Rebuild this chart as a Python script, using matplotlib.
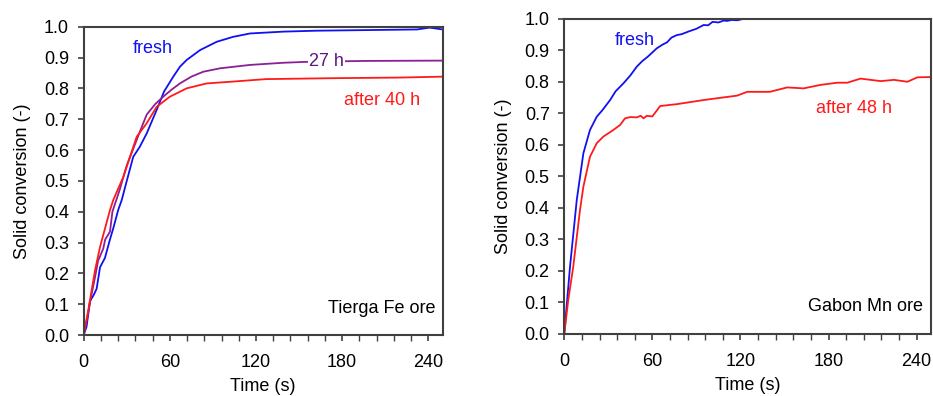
import matplotlib
matplotlib.use("Agg")
import matplotlib.pyplot as plt
from matplotlib.ticker import MultipleLocator

plt.rcParams['font.family'] = ['Liberation Sans', 'DejaVu Sans']
plt.rcParams['font.size'] = 13

# Tierga Fe ore: conversion vs time (s)
fe_fresh_t = [0, 2, 4.4, 7, 9, 11.4, 14.8, 18.3, 20.6, 24, 26.5, 30, 34.5, 39, 43.9,
              50.8, 56, 62.4, 67, 71.7, 81, 92.6, 104, 115.8, 139, 162, 197, 232, 241, 250]
fe_fresh_x = [0, 0.027, 0.11, 0.13, 0.15, 0.22, 0.25, 0.31, 0.346, 0.405, 0.438, 0.5, 0.578, 0.61, 0.654,
              0.73, 0.79, 0.838, 0.87, 0.892, 0.924, 0.951, 0.967, 0.978, 0.984, 0.987, 0.989, 0.991, 0.997, 0.991]

fe_27h_t = [0, 3, 5, 8, 10, 13.6, 15, 18.3, 20, 25, 30, 35, 40, 43.9, 50, 55.4, 61, 67, 75,
            83.3, 95, 115.8, 139, 155, 197, 250]
fe_27h_x = [0, 0.07, 0.12, 0.19, 0.24, 0.28, 0.31, 0.335, 0.4, 0.47, 0.55, 0.61, 0.67, 0.715, 0.75, 0.773, 0.795, 0.816, 0.838,
            0.854, 0.865, 0.876, 0.883, 0.886, 0.889, 0.89]

fe_40h_t = [0, 3.2, 7.9, 11.4, 18.3, 20.6, 27.6, 36.9, 43.9, 50.8, 60, 71.7, 85.6, 104, 127, 174, 220, 250]
fe_40h_x = [0, 0.081, 0.21, 0.286, 0.405, 0.438, 0.513, 0.643, 0.687, 0.74, 0.773, 0.8, 0.816, 0.822, 0.83, 0.833, 0.835, 0.838]

# Gabon Mn ore
mn_fresh_t = [0, 3.9, 8.5, 13, 17.5, 22.1, 26, 31.2, 35, 40.3, 45, 49.4, 53, 57, 60, 63, 67, 70, 73, 76.7,
              80, 85, 90, 94.9, 98, 101, 105, 108.5, 111, 114, 118, 122.5]
mn_fresh_x = [0, 0.213, 0.425, 0.573, 0.647, 0.689, 0.71, 0.742, 0.77, 0.795, 0.82, 0.848, 0.865, 0.88, 0.893, 0.906,
              0.918, 0.925, 0.94, 0.948, 0.951, 0.96, 0.968, 0.98, 0.979, 0.99, 0.988, 0.994, 0.993, 0.996, 0.995, 1.0]

mn_48h_t = [0, 2.7, 6.1, 10.7, 13, 17.5, 22.1, 26.6, 33.4, 38, 41.4, 45, 49.4, 52, 54, 56.2, 60, 65.3, 76.7, 94.9,
            117.7, 124.5, 140, 151.8, 163, 174.5, 186, 192.8, 201.8, 215.5, 224.6, 233.7, 240.5, 250]
mn_48h_x = [0, 0.108, 0.213, 0.393, 0.467, 0.562, 0.605, 0.626, 0.647, 0.663, 0.684, 0.688, 0.687, 0.692, 0.684, 0.692, 0.69, 0.723, 0.729, 0.742,
            0.756, 0.768, 0.768, 0.782, 0.779, 0.79, 0.797, 0.797, 0.81, 0.802, 0.806, 0.8, 0.814, 0.815]

BLUE = '#1010f0'
RED = '#ff1a1a'
PURPLE = '#8a1f96'
SPINE = '#404040'


def style_axes(ax):
    ax.set_xlim(0, 250)
    ax.set_ylim(0, 1.0)
    ax.xaxis.set_major_locator(MultipleLocator(60))
    ax.xaxis.set_minor_locator(MultipleLocator(12))
    ax.yaxis.set_major_locator(MultipleLocator(0.1))
    ax.yaxis.set_major_formatter(plt.FormatStrFormatter('%.1f'))
    ax.tick_params(which='major', direction='out', length=4.5, width=1.2, color=SPINE, labelsize=13)
    ax.tick_params(which='minor', direction='out', length=4.5, width=1.0, color=SPINE)
    ax.tick_params(axis='x', which='major', pad=9)
    ax.tick_params(axis='y', which='major', pad=6)
    for s in ax.spines.values():
        s.set_color(SPINE)
        s.set_linewidth(1.5)
    ax.set_xlabel('Time (s)', fontsize=13, labelpad=5)
    ax.set_ylabel('Solid conversion (-)', fontsize=13, labelpad=9)


fig = plt.figure(figsize=(9.33, 3.96), dpi=100)

ax1 = fig.add_axes([0.0897, 0.154, 0.3848, 0.7786])
ax1.plot(fe_fresh_t, fe_fresh_x, color=BLUE, lw=1.3)
ax1.plot(fe_27h_t, fe_27h_x, color=PURPLE, lw=1.3)
ax1.plot(fe_40h_t, fe_40h_x, color=RED, lw=1.3)
ax1.text(48, 0.93, 'fresh', color=BLUE, ha='center', va='center')
ax1.text(169, 0.887, '27 h', color='#5a1a80', ha='center', va='center',
         bbox=dict(facecolor='white', edgecolor='none', pad=0.5))
ax1.text(207.5, 0.762, 'after 40 h', color=RED, ha='center', va='center')
ax1.text(245, 0.087, 'Tierga Fe ore', color='black', ha='right', va='center')
style_axes(ax1)

ax2 = fig.add_axes([0.6048, 0.1566, 0.3934, 0.7962])
ax2.plot(mn_fresh_t, mn_fresh_x, color=BLUE, lw=1.3)
ax2.plot(mn_48h_t, mn_48h_x, color=RED, lw=1.3)
ax2.text(48, 0.932, 'fresh', color=BLUE, ha='center', va='center')
ax2.text(197, 0.716, 'after 48 h', color=RED, ha='center', va='center')
ax2.text(244, 0.087, 'Gabon Mn ore', color='black', ha='right', va='center')
style_axes(ax2)

fig.savefig('out.png', dpi=100)
